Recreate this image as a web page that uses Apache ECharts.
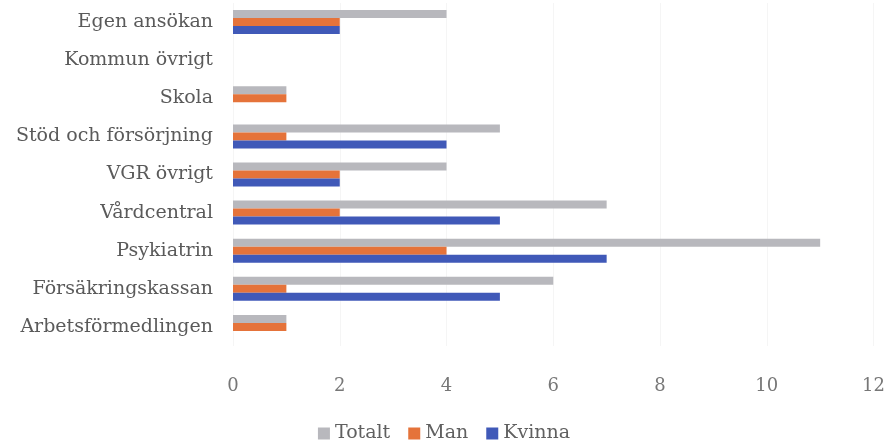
<!DOCTYPE html>
<html><head><meta charset="utf-8">
<script src="https://cdn.jsdelivr.net/npm/echarts@6/dist/echarts.min.js"></script>
<style>html,body{margin:0;padding:0;background:#fff}#c{width:888px;height:444px}</style>
</head><body><div id="c"></div>
<script>
// categories listed bottom to top
var categories = ["Arbetsförmedlingen","Försäkringskassan","Psykiatrin","Vårdcentral","VGR övrigt","Stöd och försörjning","Skola","Kommun övrigt","Egen ansökan"];
var totalt = [1, 6, 11, 7, 4, 5, 1, 0, 4];
var man    = [1, 1, 4, 2, 2, 1, 1, 0, 2];
var kvinna = [0, 5, 7, 5, 2, 4, 0, 0, 2];
var xTicks = [0, 2, 4, 6, 8, 10, 12];

var font = "'DejaVu Serif', 'Liberation Serif', serif";
var chart = echarts.init(document.getElementById('c'));
chart.setOption({
  animation: false,
  grid: {left: 233, right: 13, top: 3, bottom: 98, containLabel: false},
  legend: {
    data: ['Totalt','Man','Kvinna'],
    bottom: -4, left: 'center',
    itemWidth: 12, itemHeight: 12, itemGap: 18,
    icon: 'rect',
    textStyle: {fontFamily: font, fontSize: 19, color: '#606060'}
  },
  xAxis: {
    type: 'value', min: 0, max: 12, interval: 2,
    axisLine: {show: false}, axisTick: {show: false},
    splitLine: {show: true, lineStyle: {color: '#f5f5f5'}},
    axisLabel: {fontFamily: font, fontSize: 18, color: '#777', margin: 31,
      formatter: function(v){ return xTicks.indexOf(v) >= 0 ? String(v) : ''; }}
  },
  yAxis: {
    type: 'category', data: categories,
    axisLine: {show: false}, axisTick: {show: false},
    axisLabel: {fontFamily: font, fontSize: 19, color: '#5a5a5a', margin: 20}
  },
  series: [
    {name: 'Totalt', type: 'bar', data: totalt, barWidth: 8, barGap: '0%', itemStyle: {color: '#b8b8bd'}},
    {name: 'Man', type: 'bar', data: man, barWidth: 8, barGap: '0%', itemStyle: {color: '#e5733a'}},
    {name: 'Kvinna', type: 'bar', data: kvinna, barWidth: 8, barGap: '0%', itemStyle: {color: '#4059b8'}}
  ]
});
</script></body></html>
